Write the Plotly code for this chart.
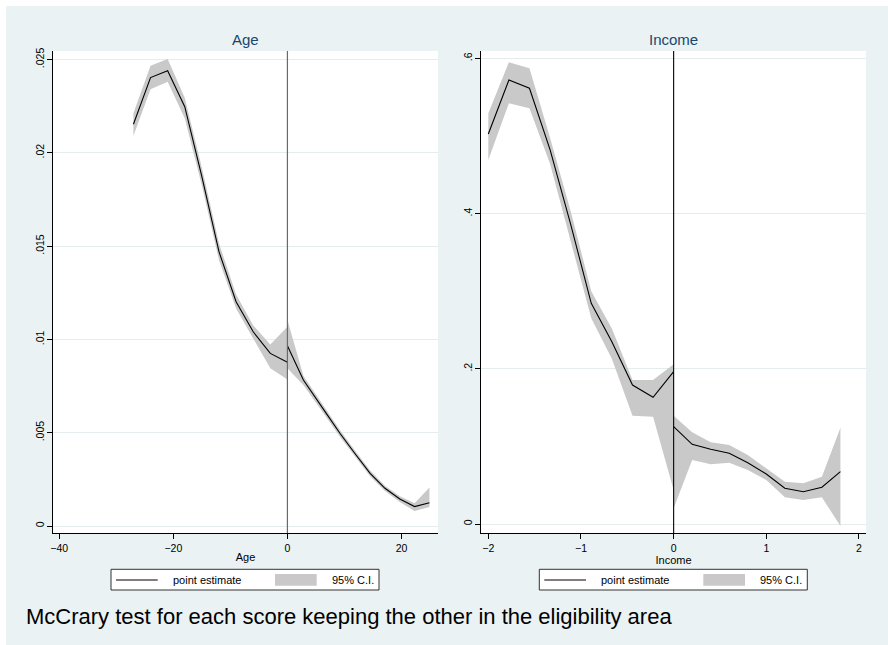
import plotly.graph_objects as go

# ---------------- data ----------------
age_left_x = [-27, -24, -21, -18, -15, -12, -9, -6, -3, 0]
age_left_y = [0.02153, 0.02403, 0.02440, 0.02247, 0.01872, 0.01470, 0.01202, 0.01041, 0.00925, 0.00878]
age_left_hi = [0.02212, 0.02467, 0.02503, 0.02295, 0.01920, 0.01515, 0.01240, 0.01075, 0.00972, 0.01068]
age_left_lo = [0.02092, 0.02340, 0.02381, 0.02185, 0.01825, 0.01425, 0.01165, 0.01005, 0.00845, 0.00785]

age_right_x = [0, 2.8, 6.6, 9.2, 11.8, 14.5, 17.1, 19.7, 22.3, 24.9]
age_right_y = [0.00966, 0.00782, 0.00613, 0.00497, 0.00390, 0.00282, 0.00202, 0.00145, 0.00104, 0.00125]
age_right_hi = [0.01104, 0.00805, 0.00632, 0.00515, 0.00406, 0.00297, 0.00216, 0.00160, 0.00122, 0.00207]
age_right_lo = [0.00845, 0.00756, 0.00592, 0.00478, 0.00373, 0.00267, 0.00188, 0.00128, 0.00080, 0.00102]

inc_left_x = [-2.0, -1.778, -1.556, -1.333, -1.111, -0.889, -0.667, -0.444, -0.222, 0]
inc_left_y = [0.5026, 0.5722, 0.5615, 0.4820, 0.3860, 0.2844, 0.2349, 0.1791, 0.1633, 0.1963]
inc_left_hi = [0.5292, 0.5950, 0.5873, 0.4975, 0.4030, 0.3000, 0.2520, 0.1856, 0.1856, 0.2058]
inc_left_lo = [0.4690, 0.5421, 0.5357, 0.4640, 0.3650, 0.2650, 0.2130, 0.1396, 0.1383, 0.0438]

inc_right_x = [0, 0.2, 0.4, 0.6, 0.8, 1.0, 1.2, 1.4, 1.6, 1.8]
inc_right_y = [0.1254, 0.1027, 0.0962, 0.0911, 0.0790, 0.0644, 0.0460, 0.0416, 0.0473, 0.0674]
inc_right_hi = [0.1396, 0.1182, 0.1053, 0.1018, 0.0889, 0.0718, 0.0545, 0.0524, 0.0610, 0.1241]
inc_right_lo = [0.0202, 0.0825, 0.0769, 0.0790, 0.0696, 0.0567, 0.0344, 0.0309, 0.0344, -0.0026]

age_yticks = [0, 0.005, 0.01, 0.015, 0.02, 0.025]
age_ytext = ["0", ".005", ".01", ".015", ".02", ".025"]
age_xticks = [-40, -20, 0, 20]
inc_yticks = [0, 0.2, 0.4, 0.6]
inc_ytext = ["0", ".2", ".4", ".6"]
inc_xticks = [-2, -1, 0, 1, 2]

panel_titles = ["Age", "Income"]
legend_labels = ["point estimate", "95% C.I."]
caption = "McCrary test for each score keeping the other in the eligibility area"

# ---------------- styling ----------------
W, H = 888, 645
FONT = "Liberation Sans, Arial, Helvetica, sans-serif"
BG = "#eaf2f3"
BAND = "#c9c9c9"
TITLE_C = "#1a476f"


def px(x):
    return x / W


def py(y):
    return 1 - y / H


fig = go.Figure()


def band(xs, hi, lo, xa, ya):
    fig.add_trace(go.Scatter(
        x=list(xs) + list(xs)[::-1], y=list(hi) + list(lo)[::-1],
        fill="toself", fillcolor=BAND, mode="lines", line=dict(width=0),
        xaxis=xa, yaxis=ya, showlegend=False, hoverinfo="skip"))


def line(xs, ys, xa, ya):
    fig.add_trace(go.Scatter(
        x=xs, y=ys, mode="lines", line=dict(color="black", width=1.1),
        xaxis=xa, yaxis=ya, showlegend=False))


band(age_left_x, age_left_hi, age_left_lo, "x", "y")
band(age_right_x, age_right_hi, age_right_lo, "x", "y")
line(age_left_x, age_left_y, "x", "y")
line(age_right_x, age_right_y, "x", "y")

band(inc_left_x, inc_left_hi, inc_left_lo, "x2", "y2")
band(inc_right_x, inc_right_hi, inc_right_lo, "x2", "y2")
line(inc_left_x, inc_left_y, "x2", "y2")
line(inc_right_x, inc_right_y, "x2", "y2")

ydom = [py(533), py(51)]
common_ax = dict(showline=True, linecolor="black", linewidth=1, ticks="outside",
                 ticklen=5, tickcolor="black", tickwidth=1,
                 tickfont=dict(family=FONT, size=10.5, color="black"),
                 zeroline=False, fixedrange=True)

fig.update_layout(
    width=W, height=H,
    margin=dict(l=0, r=0, t=0, b=0, autoexpand=False),
    paper_bgcolor=BG, plot_bgcolor="white",
    showlegend=False,
    font=dict(family=FONT, color="black"),
    xaxis=dict(domain=[px(53), px(438)], range=[-41.1, 26.4], anchor="y",
               tickvals=age_xticks, showgrid=False,
               title=dict(text="Age", standoff=0, font=dict(family=FONT, size=11, color="black")),
               **common_ax),
    yaxis=dict(domain=ydom, range=[-0.000375, 0.025455], anchor="x",
               tickvals=age_yticks, ticktext=age_ytext, tickangle=-90, ticklabelstandoff=-1,
               showgrid=True, gridcolor="#e4eced", gridwidth=1, **common_ax),
    xaxis2=dict(domain=[px(481), px(866)], range=[-2.079, 2.076], anchor="y2",
                tickvals=inc_xticks, showgrid=False,
                title=dict(text="Income", standoff=0, font=dict(family=FONT, size=11, color="black")),
                **common_ax),
    yaxis2=dict(domain=ydom, range=[-0.0116, 0.6095], anchor="x2",
                tickvals=inc_yticks, ticktext=inc_ytext, tickangle=-90, ticklabelstandoff=-1,
                showgrid=True, gridcolor="#e4eced", gridwidth=1, **common_ax),
)

shapes = []
# white outer strip (top & left)
shapes.append(dict(type="rect", xref="paper", yref="paper", x0=0, x1=px(6), y0=0, y1=1,
                   fillcolor="white", line=dict(width=0), layer="above"))
shapes.append(dict(type="rect", xref="paper", yref="paper", x0=0, x1=1, y0=py(6), y1=1,
                   fillcolor="white", line=dict(width=0), layer="above"))
# cutoff lines
shapes.append(dict(type="line", xref="x", yref="y domain", x0=0, x1=0, y0=0, y1=1,
                   line=dict(color="#6a6a6a", width=1.2), layer="above"))
shapes.append(dict(type="line", xref="x2", yref="y2 domain", x0=0, x1=0, y0=0, y1=1,
                   line=dict(color="black", width=1.1), layer="above"))

annotations = []
# panel titles
for title, cx in zip(panel_titles, [(53 + 438) / 2, (481 + 866) / 2]):
    annotations.append(dict(text=title, x=px(cx), y=py(39), xref="paper", yref="paper",
                            xanchor="center", yanchor="middle", showarrow=False,
                            font=dict(family=FONT, size=15, color=TITLE_C)))

# legends drawn per panel
for bx in [111, 539.3]:
    shapes.append(dict(type="rect", xref="paper", yref="paper",
                       x0=px(bx), x1=px(bx + 268), y0=py(590), y1=py(569.3),
                       fillcolor="white", line=dict(color="#333333", width=1), layer="above"))
    shapes.append(dict(type="line", xref="paper", yref="paper",
                       x0=px(bx + 5), x1=px(bx + 46.7), y0=py(580), y1=py(580),
                       line=dict(color="#555555", width=1.5), layer="above"))
    shapes.append(dict(type="rect", xref="paper", yref="paper",
                       x0=px(bx + 164), x1=px(bx + 205.7), y0=py(585.7), y1=py(574),
                       fillcolor=BAND, line=dict(width=0), layer="above"))
    annotations.append(dict(text=legend_labels[0], x=px(bx + 60), y=py(580), xref="paper", yref="paper",
                            xanchor="left", yanchor="middle", showarrow=False,
                            font=dict(family=FONT, size=11, color="black")))
    annotations.append(dict(text=legend_labels[1], x=px(bx + 219), y=py(580), xref="paper", yref="paper",
                            xanchor="left", yanchor="middle", showarrow=False,
                            font=dict(family=FONT, size=11, color="black")))

annotations.append(dict(text=caption, x=px(24), y=py(616), xref="paper", yref="paper",
                        xanchor="left", yanchor="middle", showarrow=False,
                        font=dict(family=FONT, size=22, color="black")))

fig.update_layout(shapes=shapes, annotations=annotations)
fig.write_html("out.html", config={"displayModeBar": False},
               post_script="document.body.style.margin='0px';")
